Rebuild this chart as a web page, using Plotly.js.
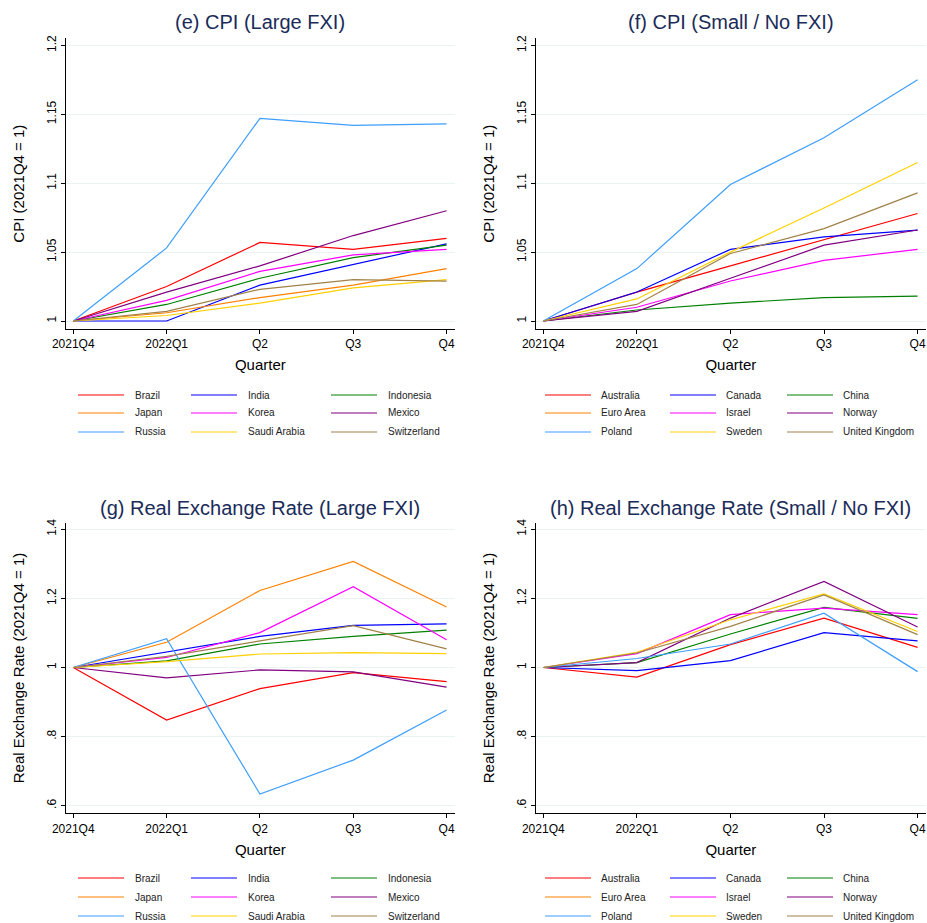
<!DOCTYPE html>
<html>
<head>
<meta charset="utf-8">
<script src="https://cdn.plot.ly/plotly-3.0.1.min.js"></script>
<style>html,body{margin:0;padding:0;background:#fff;overflow:hidden;}#chart{width:927px;height:923px;}</style>
</head>
<body>
<div id="chart"></div>
<script>
// ---- Data ----
const quarters = ["2021Q4", "2022Q1", "Q2", "Q3", "Q4"];

const largeFXI = ["Brazil", "India", "Indonesia", "Japan", "Korea", "Mexico", "Russia", "Saudi Arabia", "Switzerland"];
const smallFXI = ["Australia", "Canada", "China", "Euro Area", "Israel", "Norway", "Poland", "Sweden", "United Kingdom"];

// CPI (2021Q4 = 1), Large FXI
const cpiBrazil      = [1, 1.025, 1.057, 1.052, 1.060];
const cpiIndia       = [1, 1.000, 1.026, 1.041, 1.056];
const cpiIndonesia   = [1, 1.012, 1.031, 1.046, 1.055];
const cpiJapan       = [1, 1.006, 1.017, 1.026, 1.038];
const cpiKorea       = [1, 1.015, 1.036, 1.048, 1.052];
const cpiMexico      = [1, 1.021, 1.040, 1.062, 1.080];
const cpiRussia      = [1, 1.053, 1.147, 1.142, 1.143];
const cpiSaudiArabia = [1, 1.004, 1.013, 1.024, 1.030];
const cpiSwitzerland = [1, 1.007, 1.023, 1.030, 1.029];

// CPI (2021Q4 = 1), Small / No FXI
const cpiAustralia = [1, 1.021, 1.040, 1.059, 1.078];
const cpiCanada    = [1, 1.021, 1.052, 1.061, 1.066];
const cpiChina     = [1, 1.008, 1.013, 1.017, 1.018];
const cpiEuroArea  = [null, null, null, null, null];
const cpiIsrael    = [1, 1.010, 1.029, 1.044, 1.052];
const cpiNorway    = [1, 1.007, 1.031, 1.055, 1.066];
const cpiPoland    = [1, 1.038, 1.099, 1.133, 1.175];
const cpiSweden    = [1, 1.016, 1.050, 1.082, 1.115];
const cpiUK        = [1, 1.012, 1.049, 1.067, 1.093];

// Real Exchange Rate (2021Q4 = 1), Large FXI
const rerBrazil      = [1, 0.848, 0.939, 0.985, 0.959];
const rerIndia       = [1, 1.044, 1.090, 1.122, 1.126];
const rerIndonesia   = [1, 1.019, 1.068, 1.090, 1.108];
const rerJapan       = [1, 1.073, 1.223, 1.307, 1.175];
const rerKorea       = [1, 1.029, 1.101, 1.234, 1.080];
const rerMexico      = [1, 0.970, 0.993, 0.987, 0.943];
const rerRussia      = [1, 1.083, 0.634, 0.732, 0.877];
const rerSaudiArabia = [1, 1.017, 1.039, 1.043, 1.040];
const rerSwitzerland = [1, 1.032, 1.077, 1.121, 1.054];

// Real Exchange Rate (2021Q4 = 1), Small / No FXI
const rerAustralia = [1, 0.972, 1.066, 1.143, 1.058];
const rerCanada    = [1, 0.991, 1.020, 1.101, 1.077];
const rerChina     = [1, 1.014, 1.097, 1.174, 1.142];
const rerEuroArea  = [null, null, null, null, null];
const rerIsrael    = [1, 1.040, 1.153, 1.172, 1.153];
const rerNorway    = [1, 1.014, 1.143, 1.249, 1.117];
const rerPoland    = [1, 1.026, 1.068, 1.157, 0.988];
const rerSweden    = [1, 1.044, 1.138, 1.213, 1.104];
const rerUK        = [1, 1.042, 1.119, 1.210, 1.095];

const cpiTicks = [1, 1.05, 1.1, 1.15, 1.2];
const cpiTickText = ["1", "1.05", "1.1", "1.15", "1.2"];
const rerTicks = [0.6, 0.8, 1, 1.2, 1.4];
const rerTickText = [".6", ".8", "1", "1.2", "1.4"];

// ---- Styling ----
const seriesColors = ["#ff0000", "#0000ff", "#008000", "#ff8000", "#ff00ff", "#800080", "#3d9eff", "#ffd000", "#a08248"];

const W = 927, H = 923;
const px = v => v / W;
const py = v => 1 - v / H;

const panels = [
  {names: largeFXI, data: [cpiBrazil, cpiIndia, cpiIndonesia, cpiJapan, cpiKorea, cpiMexico, cpiRussia, cpiSaudiArabia, cpiSwitzerland], xa: "x", ya: "y", lineX: [78, 191, 331], textX: [135, 248, 388], rowY: [395, 413, 432]},
  {names: smallFXI, data: [cpiAustralia, cpiCanada, cpiChina, cpiEuroArea, cpiIsrael, cpiNorway, cpiPoland, cpiSweden, cpiUK], xa: "x2", ya: "y2", lineX: [545, 670, 787], textX: [601, 726, 843], rowY: [395, 413, 432]},
  {names: largeFXI, data: [rerBrazil, rerIndia, rerIndonesia, rerJapan, rerKorea, rerMexico, rerRussia, rerSaudiArabia, rerSwitzerland], xa: "x3", ya: "y3", lineX: [78, 191, 331], textX: [135, 248, 388], rowY: [878, 897, 916]},
  {names: smallFXI, data: [rerAustralia, rerCanada, rerChina, rerEuroArea, rerIsrael, rerNorway, rerPoland, rerSweden, rerUK], xa: "x4", ya: "y4", lineX: [545, 670, 787], textX: [601, 726, 843], rowY: [878, 897, 916]}
];

const font = "Liberation Sans, Arial, Helvetica, sans-serif";
const traces = [];
const shapes = [];
const annotations = [];

panels.forEach(p => {
  p.names.forEach((name, i) => {
    traces.push({
      type: "scatter", mode: "lines",
      x: quarters, y: p.data[i], name: name,
      xaxis: p.xa, yaxis: p.ya,
      line: {color: seriesColors[i], width: 1.2},
      showlegend: false, hoverinfo: "x+y+name"
    });
    // legend key (3 columns, row-major order)
    const col = i % 3, row = Math.floor(i / 3);
    const yy = py(p.rowY[row]);
    shapes.push({type: "line", xref: "paper", yref: "paper",
      x0: px(p.lineX[col]), x1: px(p.lineX[col] + 46), y0: yy, y1: yy,
      line: {color: seriesColors[i], width: 1.2}});
    annotations.push({text: name, xref: "paper", yref: "paper",
      x: px(p.textX[col] - 2), y: yy, xanchor: "left", yanchor: "middle",
      showarrow: false, font: {family: font, size: 10, color: "#222"}});
  });
});

const xRange = [-0.081, 4.09];
const xDomL = [px(65.7), px(455)], xDomR = [px(535.7), px(926)];
const yDomT = [py(329), py(38.3)], yDomB = [py(813.3), py(522.7)];

function xAxis(dom, anchor) {
  return {
    domain: dom, anchor: anchor, type: "category", range: xRange, automargin: false,
    showline: true, linecolor: "#000", linewidth: 1, mirror: false,
    ticks: "outside", ticklen: 4, tickcolor: "#000", tickwidth: 1,
    showgrid: false, zeroline: false, fixedrange: true,
    tickfont: {family: font, size: 12, color: "#000"},
    title: {text: "Quarter", font: {family: font, size: 15, color: "#000"}, standoff: 9}
  };
}
function yAxis(dom, anchor, range, tv, tt, ttl) {
  return {
    domain: dom, anchor: anchor, range: range, automargin: false,
    tickvals: tv, ticktext: tt, tickangle: -90,
    showline: true, linecolor: "#000", linewidth: 1,
    ticks: "outside", ticklen: 4, tickcolor: "#000", tickwidth: 1,
    showgrid: true, gridcolor: "#eaf2f3", gridwidth: 1, zeroline: false, fixedrange: true,
    tickfont: {family: font, size: 12, color: "#000"},
    title: {text: ttl, font: {family: font, size: 15, color: "#000"}, standoff: 16}
  };
}

const titleFont = {family: font, size: 20, color: "#1a2b59"};
annotations.push(
  {text: "(e) CPI (Large FXI)", xref: "x domain", yref: "paper", x: 0.5, y: py(22), yanchor: "middle", showarrow: false, font: titleFont},
  {text: "(f) CPI (Small / No FXI)", xref: "x2 domain", yref: "paper", x: 0.5, y: py(22), yanchor: "middle", showarrow: false, font: titleFont},
  {text: "(g) Real Exchange Rate (Large FXI)", xref: "x3 domain", yref: "paper", x: 0.5, y: py(508), yanchor: "middle", showarrow: false, font: titleFont},
  {text: "(h) Real Exchange Rate (Small / No FXI)", xref: "x4 domain", yref: "paper", x: 0.5, y: py(508), yanchor: "middle", showarrow: false, font: titleFont}
);

const layout = {
  width: W, height: H,
  margin: {l: 0, r: 0, t: 0, b: 0},
  paper_bgcolor: "#fff", plot_bgcolor: "#fff",
  font: {family: font, color: "#000"},
  showlegend: false,
  xaxis:  xAxis(xDomL, "y"),
  xaxis2: xAxis(xDomR, "y2"),
  xaxis3: xAxis(xDomL, "y3"),
  xaxis4: xAxis(xDomR, "y4"),
  yaxis:  yAxis(yDomT, "x",  [0.9942, 1.2051], cpiTicks, cpiTickText, "CPI (2021Q4 = 1)"),
  yaxis2: yAxis(yDomT, "x2", [0.9942, 1.2051], cpiTicks, cpiTickText, "CPI (2021Q4 = 1)"),
  yaxis3: yAxis(yDomB, "x3", [0.578, 1.419], rerTicks, rerTickText, "Real Exchange Rate (2021Q4 = 1)"),
  yaxis4: yAxis(yDomB, "x4", [0.578, 1.419], rerTicks, rerTickText, "Real Exchange Rate (2021Q4 = 1)"),
  shapes: shapes,
  annotations: annotations
};

Plotly.newPlot("chart", traces, layout, {displayModeBar: false, staticPlot: true});
</script>
</body>
</html>
